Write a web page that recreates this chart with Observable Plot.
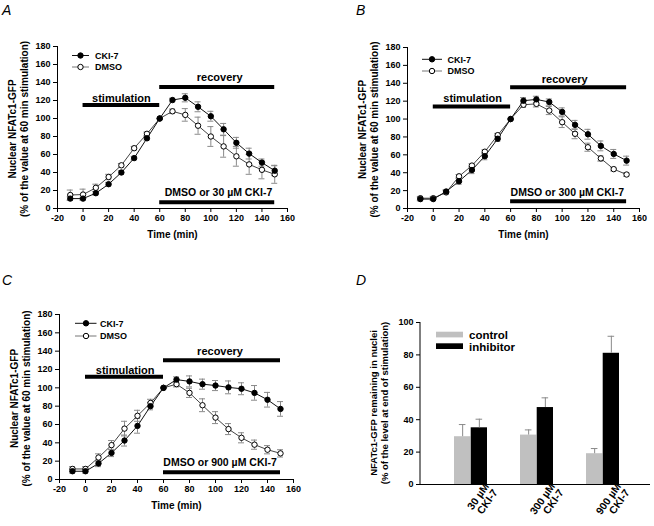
<!DOCTYPE html>
<html><head><meta charset="utf-8">
<script src="https://cdn.jsdelivr.net/npm/d3@7"></script>
<script src="https://cdn.jsdelivr.net/npm/@observablehq/plot@0.6"></script>
<style>
body{margin:0;background:#fff;}
#fig{position:relative;width:654px;height:526px;overflow:hidden;background:#fff;font-family:"Liberation Sans",Arial,sans-serif;}
.panel{position:absolute;}
.letter{position:absolute;font-style:italic;font-size:14px;line-height:14px;color:#000;}
</style></head>
<body><div id="fig"></div>
<script>
// ---------- data ----------
const times = [-10,0,10,20,30,40,50,60,70,80,90,100,110,120,130,140,150];
const xTicks = [-20,0,20,40,60,80,100,120,140,160];
const yTicks = [0,20,40,60,80,100,120,140,160,180];

const aCki     = [11,11,17,27,40,56,78,100,120.5,123,113,102.5,88,73,61,51,42];
const aCkiErr  = [2,1.5,2,2,2,2,2,0,2,4.5,5.5,5.5,6.5,6,6,4,5.5];
const aDmso    = [15,15.5,23,35,48,67,83,100,108,104,92,80,69,58,49,43,38];
const aDmsoErr = [5.5,6,4,3,2,2,2,0,2.5,7,9.5,11,12,11,11,10,10];

const bCki     = [10.5,10.5,19,30.5,43,58.5,78,100,120.5,122,119,108,93.5,83,70,61,53.5];
const bCkiErr  = [2,1.5,2,3.5,4,4,3,0,3.5,3.5,3.5,4.5,5,5.5,5.5,5,5];
const bDmso    = [11.5,11.5,18,36,48,63.5,82,100,116,117,109.5,96.5,83.5,68.5,56,44,38];
const bDmsoErr = [2,2,2,2,2,2,2,0,3,3.5,4.5,6,5.5,4.5,3,2,2];

const cCki     = [9,9,17.5,29,42.5,58.5,80,100,109,107,104,102.5,100.5,99,94.5,87,77];
const cCkiErr  = [2,2,3.5,4,6,8,4,0,3,6,5.5,5.5,7,6.5,8,8,8];
const cDmso    = [11.5,11.5,24,37.5,55.5,69.5,83.5,100,104,94.5,81,67.5,55,45.5,38,32.5,28.5];
const cDmsoErr = [2.5,2.5,4,5,8,6,4,0,3,5,7,6.5,6,5.5,5,4.5,4];

const doses = ["30 µM CKI-7","300 µM CKI-7","900 µM CKI-7"];
const doseTickLabels = ["30 µM\nCKI-7","300 µM\nCKI-7","900 µM\nCKI-7"];
const dControl     = [29.5,30.5,19];
const dControlErr  = [7.5,3.2,3.2];
const dInhibitor   = [35,47.5,81];
const dInhibitorErr= [5.3,6,10.5];
const seriesNames = ["CKI-7","DMSO"];
const barSeries = ["control","inhibitor"];
const yLabelLines = ["Nuclear NFATc1-GFP", "(% of the value at 60 min stimulation)"];
const dYLabelLines = ["NFATc1-GFP remaining in nuclei", "(% of the level at end of stimulation)"];
const phases = [{name:"stimulation", from:0, to:60}, {name:"recovery", from:60, to:150}];
const treatLabels = ["DMSO or 30 µM CKI-7","DMSO or 300 µM CKI-7","DMSO or 900 µM CKI-7"];

// ---------- layout ----------
const FONT = '"Liberation Sans", Arial, Helvetica, sans-serif';
const fig = document.getElementById("fig");
const ERR = "#8a8a8a";

function addLetter(ch, left, top) {
  const d = document.createElement("div");
  d.className = "letter"; d.textContent = ch;
  d.style.left = left + "px"; d.style.top = top + "px";
  fig.appendChild(d);
}
function addPanel(el, left, top) {
  const w = document.createElement("div");
  w.className = "panel"; w.style.left = left + "px"; w.style.top = top + "px";
  w.appendChild(el); fig.appendChild(w);
}
function yLabel(svg, lines, cx, cy, size) {
  const t = d3.select(svg).append("text")
    .attr("transform", `translate(${cx},${cy}) rotate(-90)`)
    .attr("text-anchor", "middle").attr("font-size", size).attr("font-weight", "bold")
    .attr("font-family", FONT).attr("fill", "#000");
  const lh = size * 1.12;
  lines.forEach((s, i) => {
    t.append("tspan").attr("x", 0).attr("y", (i - (lines.length - 1) / 2) * lh + size * 0.35).text(s);
  });
}

function linePanel(p) {
  const mk = (vals, errs, s) => times.map((t,i) => ({t, v: vals[i], e: errs[i], s}));
  const cki = mk(p.cki, p.ckiErr, seriesNames[0]);
  const dmso = mk(p.dmso, p.dmsoErr, seriesNames[1]);
  const errRows = cki.concat(dmso).filter(d => d.e > 0);
  const bars = phases.map((ph, i) => ({from: ph.from, to: ph.to, y: p.barY[i]}))
    .concat([{from: 60, to: 150, y: p.treatBarY}]);
  const labels = phases.map((ph, i) => ({x: p.labelPos[i][0], y: p.labelPos[i][1], text: ph.name, size: 11}))
    .concat([{x: p.labelPos[2][0], y: p.labelPos[2][1], text: p.treat, size: 10.5}]);
  const svg = Plot.plot({
    width: 327, height: p.height,
    marginLeft: p.ml, marginRight: p.mr, marginTop: p.mt, marginBottom: p.mb,
    style: {fontFamily: FONT, fontSize: "9px", fontWeight: "bold", color: "#000", background: "#fff", overflow: "visible"},
    x: {domain: [-20,160], ticks: xTicks, tickSize: 4, tickPadding: 2, tickFormat: d => String(d), label: null},
    y: {domain: [0,180], ticks: yTicks, tickSize: 4, tickPadding: 3, tickFormat: d => String(d), label: null},
    marks: [
      Plot.ruleY([0]),
      Plot.ruleX([-20]),
      Plot.ruleX(errRows, {x: "t", y1: d => d.v - d.e, y2: d => d.v + d.e, stroke: ERR}),
      Plot.ruleY(errRows, {x1: "t", x2: "t", y: d => d.v + d.e, insetLeft: -3, insetRight: -3, stroke: ERR}),
      Plot.ruleY(errRows, {x1: "t", x2: "t", y: d => d.v - d.e, insetLeft: -3, insetRight: -3, stroke: ERR}),
      Plot.line(dmso, {x: "t", y: "v", stroke: "#444", strokeWidth: 1}),
      Plot.line(cki, {x: "t", y: "v", stroke: "#111", strokeWidth: 1}),
      Plot.dot(dmso, {x: "t", y: "v", r: 2.7, fill: "#fff", stroke: "#000", strokeWidth: 1}),
      Plot.dot(cki, {x: "t", y: "v", r: 2.7, fill: "#000", stroke: "#000", strokeWidth: 1}),
      Plot.ruleY(bars, {x1: "from", x2: "to", y: "y", strokeWidth: 4, stroke: "#000"}),
      Plot.text(labels, {x: "x", y: "y", text: "text", fontSize: d => d.size}),
      Plot.text(["Time (min)"], {text: d => d, frameAnchor: "bottom", dy: 29, fontSize: 10})
    ]
  });
  yLabel(svg, yLabelLines, p.ml - 38.5, (p.mt + p.height - p.mb) / 2 + 2, 10);
  // legend
  const g = d3.select(svg).append("g").attr("font-size", 9).attr("font-weight", "bold")
    .attr("font-family", FONT).attr("text-anchor", "start");
  const L = p.legend;
  seriesNames.forEach((name, i) => {
    const y = L.y[i];
    g.append("line").attr("x1", L.x1).attr("x2", L.x2).attr("y1", y).attr("y2", y)
      .attr("stroke", i ? "#777" : "#111");
    g.append("circle").attr("cx", L.cx).attr("cy", y).attr("r", 2.7)
      .attr("fill", i ? "#fff" : "#000").attr("stroke", "#000");
    g.append("text").attr("x", L.tx).attr("y", y + 3.3).attr("text-anchor", "start").text(name);
  });
  return svg;
}

addPanel(linePanel({
  cki: aCki, ckiErr: aCkiErr, dmso: aDmso, dmsoErr: aDmsoErr,
  height: 260, ml: 57, mr: 40, mt: 46, mb: 52,
  barY: [115, 135], treatBarY: 7, treat: treatLabels[0],
  labelPos: [[30, 122], [107, 145.5], [106, 17.5]],
  legend: {x1: 72, x2: 89, cx: 80.5, tx: 95, y: [55.5, 67]}
}), 0, 0);

addPanel(linePanel({
  cki: bCki, ckiErr: bCkiErr, dmso: bDmso, dmsoErr: bDmsoErr,
  height: 260, ml: 80, mr: 15, mt: 47, mb: 52,
  barY: [114, 135.5], treatBarY: 8, treat: treatLabels[1],
  labelPos: [[30.5, 122.5], [102, 144], [104, 17.5]],
  legend: {x1: 95, x2: 115, cx: 105, tx: 120.5, y: [59.3, 71]}
}), 327, 0);

addPanel(linePanel({
  cki: cCki, ckiErr: cCkiErr, dmso: cDmso, dmsoErr: cDmsoErr,
  height: 266, ml: 59, mr: 34, mt: 54, mb: 47,
  barY: [112, 130], treatBarY: 8, treat: treatLabels[2],
  labelPos: [[30.5, 118.5], [103.5, 140], [103.5, 18]],
  legend: {x1: 75, x2: 96.5, cx: 86, tx: 100, y: [63.3, 76]}
}), 0, 260);

// ---------- panel D ----------
(function () {
  const ctrl = doses.map((g, i) => ({g, v: dControl[i], e: dControlErr[i]}));
  const inh = doses.map((g, i) => ({g, v: dInhibitor[i], e: dInhibitorErr[i]}));
  const half = 16.7;
  const tickMap = new Map(doses.map((d, i) => [d, doseTickLabels[i]]));
  const svg = Plot.plot({
    width: 327, height: 266, marginLeft: 93, marginRight: 4, marginTop: 62, marginBottom: 42,
    style: {fontFamily: FONT, fontSize: "9px", fontWeight: "bold", color: "#000", background: "#fff", overflow: "visible"},
    x: {domain: doses, paddingInner: 0.5, paddingOuter: 0.47, align: 0.53, label: null},
    y: {domain: [0,100], ticks: [0,20,40,60,80,100], label: null},
    marks: [
      Plot.barY(ctrl, {x: "g", y: "v", fill: "#c0c0c0", insetRight: half}),
      Plot.barY(inh, {x: "g", y: "v", fill: "#000", insetLeft: half}),
      Plot.ruleX(ctrl, {x: "g", y1: "v", y2: d => d.v + d.e, dx: -half / 2, stroke: ERR}),
      Plot.ruleX(inh, {x: "g", y1: "v", y2: d => d.v + d.e, dx: half / 2, stroke: ERR}),
      Plot.tickY(ctrl, {x: "g", y: d => d.v + d.e, insetLeft: 4.85, insetRight: 21.55, stroke: ERR}),
      Plot.tickY(inh, {x: "g", y: d => d.v + d.e, insetLeft: 21.55, insetRight: 4.85, stroke: ERR}),
      Plot.ruleY([0]),
      Plot.axisY({ticks: [0,20,40,60,80,100], tickSize: 4, tickPadding: 3, tickFormat: d => String(d)}),
      Plot.axisX({tickSize: 0, tickRotate: -55, tickPadding: 3, dx: 20, fontSize: 10.5, tickFormat: d => tickMap.get(d)})
    ]
  });
  const s = d3.select(svg);
  s.append("line").attr("x1", 93).attr("x2", 93).attr("y1", 62).attr("y2", 224).attr("stroke", "#000");
  yLabel(svg, dYLabelLines, 93 - 41, (62 + 224) / 2, 9.5);
  const g = s.append("g").attr("font-family", FONT).attr("font-weight", "bold")
    .attr("font-size", 11.5).attr("text-anchor", "start");
  const sw = [{y: 71.7, fill: "#c0c0c0"}, {y: 83.3, fill: "#000"}];
  barSeries.forEach((name, i) => {
    g.append("rect").attr("x", 109).attr("y", sw[i].y).attr("width", 27).attr("height", 5.7).attr("fill", sw[i].fill);
    g.append("text").attr("x", 142).attr("y", sw[i].y + 7.3).attr("text-anchor", "start").text(name);
  });
  addPanel(svg, 327, 260);
})();

addLetter("A", 2, 3);
addLetter("B", 356, 3);
addLetter("C", 2, 273);
addLetter("D", 356, 273);
</script>
</body></html>
